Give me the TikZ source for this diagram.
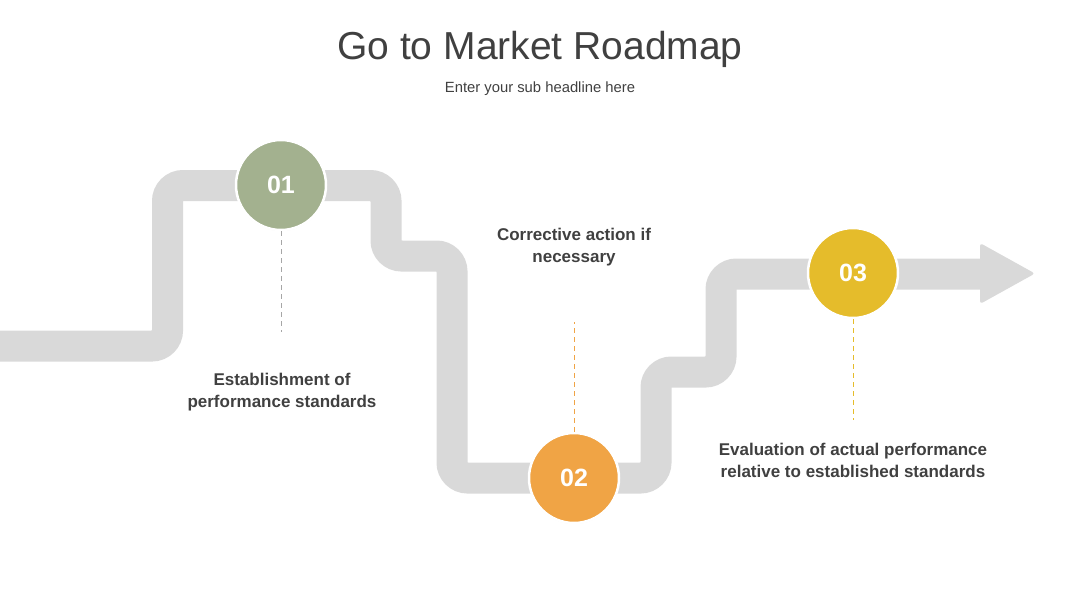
\documentclass[tikz,border=0pt]{standalone}
\usepackage{fontspec}
\setmainfont{Liberation Sans}
\usetikzlibrary{shadows}

\begin{document}
\begin{tikzpicture}[x=1pt, y=-1pt]
    \definecolor{roadColour}{HTML}{D9D9D9}
    \definecolor{textColour}{HTML}{404040}
    \definecolor{stepOneColour}{HTML}{A3B18F}
    \definecolor{stepTwoColour}{HTML}{F0A445}
    \definecolor{stepThreeColour}{HTML}{E5BC2B}
    \definecolor{dashGrey}{HTML}{A6A6A6}

    \tikzset{
        road/.style={draw=roadColour, line width=31pt, rounded corners=15.5pt},
        stepcircle/.style={circle, minimum size=90pt, inner sep=0pt, draw=white, line width=2.5pt,
            text=white, font=\bfseries\fontsize{25}{25}\selectfont,
            drop shadow={opacity=0.12, shadow xshift=0pt, shadow yshift=-1pt}},
        steplabel/.style={align=center, text=textColour, font=\bfseries\fontsize{17}{22}\selectfont},
        guide/.style={dashed, line width=0.8pt, dash pattern=on 5pt off 4pt}
    }

    \useasboundingbox (0,0) rectangle (1080,608);

    % Title
    \node[text=textColour, font=\fontsize{39}{39}\selectfont] (title) at (540,49) {Go to Market Roadmap};
    \node[text=textColour, font=\fontsize{14.8}{15}\selectfont] (subtitle) at (540,89) {Enter your sub headline here};

    % Road
    \draw[road] (0,346) -- (167.5,346) -- (167.5,185.5) -- (386,185.5) -- (386,256)
        -- (452,256) -- (452,478) -- (656,478) -- (656,372) -- (721,372) -- (721,274) -- (986,274);
    \fill[roadColour, rounded corners=3pt] (980,243) -- (1035,273.5) -- (980,304) -- cycle;

    % Steps
    \node[stepcircle, fill=stepOneColour] (one) at (281,185) {01};
    \node[stepcircle, fill=stepTwoColour] (two) at (574,478) {02};
    \node[stepcircle, fill=stepThreeColour] (three) at (853,273) {03};

    % Guides
    \coordinate (oneEnd) at (281,332);
    \coordinate (twoEnd) at (574,322);
    \coordinate (threeEnd) at (853,420);
    \draw[guide, dashGrey] (one) -- (oneEnd);
    \draw[guide, stepTwoColour] (two) -- (twoEnd);
    \draw[guide, stepThreeColour] (three) -- (threeEnd);

    % Labels
    \node[steplabel] (oneText) at (282,392) {Establishment of\\performance standards};
    \node[steplabel] (twoText) at (574,247) {Corrective action if\\necessary};
    \node[steplabel] (threeText) at (853,460) {Evaluation of actual performance\\relative to established standards};

\end{tikzpicture}
\end{document}
